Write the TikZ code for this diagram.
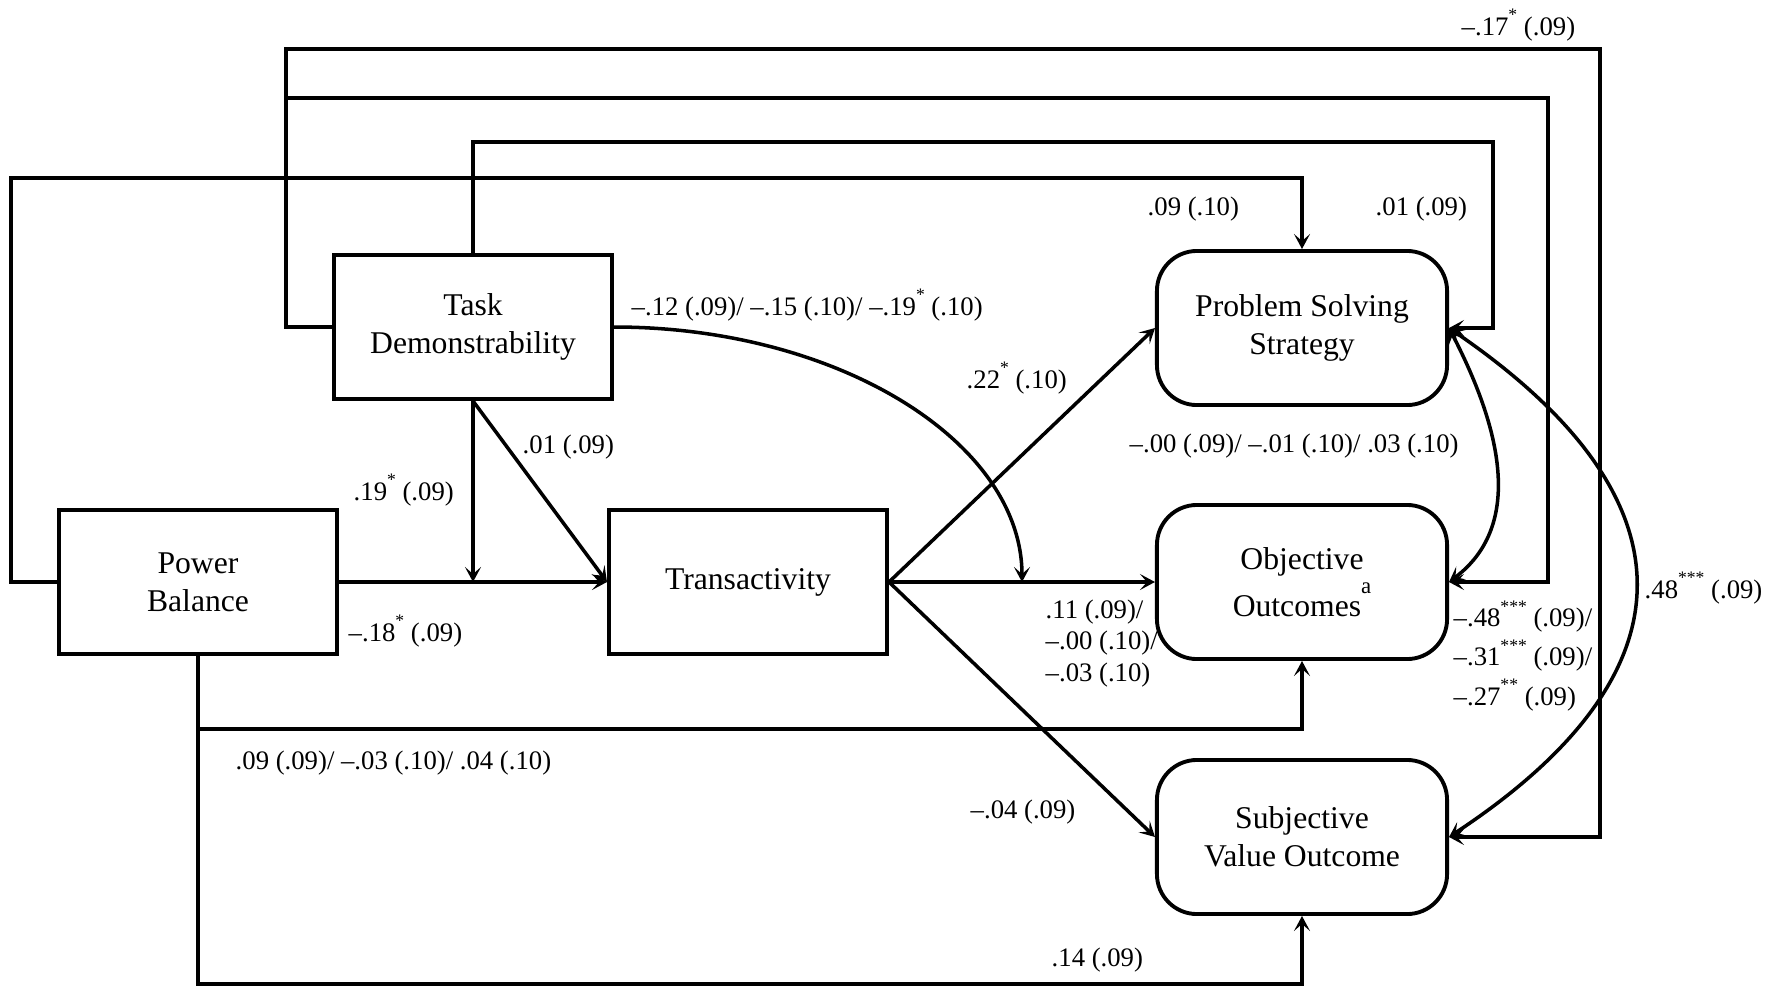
\documentclass[tikz,border=0pt]{standalone}
\usepackage{fontspec}
\setmainfont{Liberation Serif}
\usetikzlibrary{arrows.meta}
\newcommand{\sig}[1]{\raisebox{4pt}{\fontsize{5}{5}\selectfont #1}}
\tikzset{
  every picture/.style={x=0.01cm,y=-0.01cm},
  >={Stealth[length=1.5mm,width=1.6mm,inset=0.7mm]},
  box/.style={draw,line width=1.1pt,minimum width=2.78cm,minimum height=1.44cm,
    align=center,inner sep=0pt,font=\fontsize{9}{10.8}\selectfont},
  obox/.style={box,rounded corners=0.4cm,minimum width=2.9cm,minimum height=1.54cm},
  conn/.style={line width=1pt,->},
  dconn/.style={line width=1pt,<->},
  lbl/.style={anchor=base west,inner sep=0pt,align=left,font=\fontsize{7.6}{8.93}\selectfont},
}
\begin{document}
\begin{tikzpicture}
\useasboundingbox (0,0) rectangle (1775,987);
% nodes
\node[box] (task) at (473,327) {Task\\Demonstrability};
\node[box] (power) at (198,582) {Power\\Balance};
\node[box] (trans) at (748,582) {Transactivity};
\node[obox] (prob) at (1302,328) {Problem Solving\\Strategy};
\node[obox] (obj) at (1302,582) {Objective\\[2.5pt]Outcomes\smash{\raisebox{6.5pt}{\fontsize{6.5}{6.5}\selectfont a}}};
\node[obox] (subj) at (1302,837) {Subjective\\Value Outcome};
% helper coordinates
\coordinate (j1) at (286,98);
\coordinate (m1) at (473,582);
\coordinate (m2) at (1022,582);
% long loops
\draw[conn] (task.west) -- (286,327) |- (1600,49) |- (subj.east);
\draw[conn] (j1) -- (1548,98) |- (obj.east);
\draw[conn] (task.north) |- (1493,142) |- (prob.east);
\draw[conn] (power.west) -| (11,178) -| (prob.north);
% direct paths
\draw[conn] (power.east) -- (trans.west);
\draw[conn] (task.south) -- (m1);
\draw[conn] (task.south) -- (trans.west);
\draw[conn] (task.east) .. controls (838,327) and (1022,442) .. (m2);
\draw[conn] (trans.east) -- (prob.west);
\draw[conn] (trans.east) -- (obj.west);
\draw[conn] (trans.east) -- (subj.west);
\draw[conn] (power.south) -- (198,729) -| (obj.south);
\draw[conn] (power.south) -- (198,984) -| (subj.south);
% correlations
\draw[dconn] (prob.east) .. controls (1505,436) and (1521,528) .. (obj.east);
\draw[dconn] (prob.east) .. controls (1698,498) and (1698,673) .. (subj.east);
% labels
\node[lbl] (l1) at (1461,35) {–.17\sig{*} (.09)};
\node[lbl] (l2) at (1375,215) {.01 (.09)};
\node[lbl] (l3) at (1147,215) {.09 (.10)};
\node[lbl] (l4) at (631,315) {–.12 (.09)/ –.15 (.10)/ –.19\sig{*} (.10)};
\node[lbl] (l5) at (966,388) {.22\sig{*} (.10)};
\node[lbl] (l6) at (522,453) {.01 (.09)};
\node[lbl] (l7) at (353,500) {.19\sig{*} (.09)};
\node[lbl] (l8) at (348,641) {–.18\sig{*} (.09)};
\node[lbl] (l9) at (235,769) {.09 (.09)/ –.03 (.10)/ .04 (.10)};
\node[lbl] (l10) at (1129,452) {–.00 (.09)/ –.01 (.10)/ .03 (.10)};
\node[lbl] (l11) at (1045,681) {.11 (.09)/\\–.00 (.10)/\\–.03 (.10)};
\node[lbl] (l12) at (970,818) {–.04 (.09)};
\node[lbl] (l13) at (1051,966) {.14 (.09)};
\node[lbl] (l14) at (1644,598) {.48\sig{***} (.09)};
\node[lbl,font=\fontsize{7.6}{11.2}\selectfont] (l15) at (1453,705) {–.48\sig{***} (.09)/\\–.31\sig{***} (.09)/\\–.27\sig{**} (.09)};
\end{tikzpicture}
\end{document}
